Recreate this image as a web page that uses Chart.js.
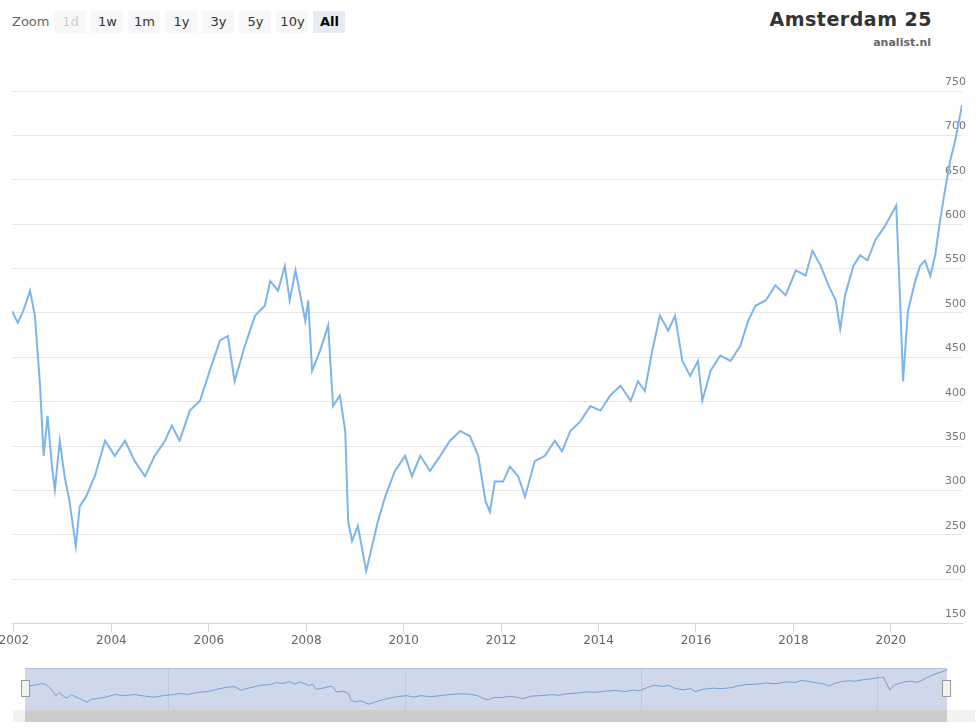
<!DOCTYPE html>
<html><head><meta charset="utf-8">
<script src="https://cdn.jsdelivr.net/npm/chart.js@4"></script>
<style>
body{margin:0;background:#fff;font-family:"DejaVu Sans",sans-serif;width:978px;height:728px;overflow:hidden;position:relative}
#zoom{position:absolute;left:12px;top:11px;font-size:13px;color:#666}
#zoom span{display:inline-block;margin-right:2px}
.btn{display:inline-block;background:#f7f7f7;color:#333;font-size:13px;width:32px;height:22px;line-height:22px;text-align:center;margin-left:3px}
.btn.dis{color:#ccc}
.btn.sel{background:#e6ebf5;font-weight:bold;color:#000}
#title{position:absolute;right:46px;top:8px;font-size:19px;font-weight:bold;color:#333;letter-spacing:.5px}
#sub{position:absolute;right:47px;top:36px;font-size:11px;font-weight:bold;color:#666}
#main{position:absolute;left:-6px;top:0;width:984px;height:650px}
#navbg{position:absolute;left:25px;top:668px;width:922px;height:42px;background:#cfd8eb;border-top:1px solid #b8c3dc}
#nav{position:absolute;left:25px;top:668px;width:922px;height:42px}
#sb{position:absolute;left:13px;top:710px;width:962px;height:12px;background:#f2f2f2}
#sbt{position:absolute;left:25px;top:710px;width:922px;height:12px;background:#cccccc}
.h{position:absolute;top:680px;width:7px;height:15px;background:#f2f2f2;border:1px solid #999}
</style></head><body>
<div id="zoom"><span>Zoom</span><span class="btn dis">1d</span><span class="btn">1w</span><span class="btn">1m</span><span class="btn">1y</span><span class="btn">3y</span><span class="btn">5y</span><span class="btn">10y</span><span class="btn sel">All</span></div>
<div id="title">Amsterdam 25</div>
<div id="sub">analist.nl</div>
<div id="main"><canvas id="c"></canvas></div>
<div id="navbg"></div>
<div id="nav"><canvas id="n"></canvas></div>
<div id="sb"></div><div id="sbt"></div>
<div class="h" style="left:21px"></div><div class="h" style="left:942px"></div>
<script>
const years = [2001.96,2002.08,2002.19,2002.33,2002.43,2002.53,2002.61,2002.69,2002.78,2002.84,2002.94,2003.04,2003.14,2003.27,2003.35,2003.48,2003.66,2003.87,2004.07,2004.28,2004.48,2004.69,2004.89,2005.1,2005.24,2005.4,2005.61,2005.82,2006.02,2006.23,2006.39,2006.53,2006.74,2006.95,2007.15,2007.26,2007.42,2007.56,2007.66,2007.78,2007.98,2008.04,2008.12,2008.28,2008.45,2008.55,2008.69,2008.8,2008.86,2008.94,2009.06,2009.23,2009.35,2009.47,2009.62,2009.82,2010.03,2010.17,2010.34,2010.54,2010.75,2010.95,2011.16,2011.36,2011.53,2011.68,2011.77,2011.87,2012.04,2012.18,2012.35,2012.49,2012.69,2012.9,2013.1,2013.25,2013.42,2013.63,2013.83,2014.04,2014.24,2014.45,2014.66,2014.81,2014.95,2015.1,2015.26,2015.43,2015.57,2015.72,2015.88,2016.04,2016.13,2016.3,2016.5,2016.71,2016.91,2017.07,2017.22,2017.43,2017.63,2017.84,2018.05,2018.25,2018.39,2018.56,2018.72,2018.87,2018.96,2019.06,2019.23,2019.37,2019.52,2019.68,2019.88,2020.05,2020.11,2020.19,2020.25,2020.35,2020.5,2020.6,2020.7,2020.81,2020.91,2021.01,2021.11,2021.22,2021.32,2021.38,2021.46];
const values = [502,489,502,525,497,423,339,384,327,301,356,316,288,237,282,293,316,356,339,356,333,316,339,356,373,356,390,401,435,469,474,423,463,497,508,536,525,553,514,548,491,514,435,457,486,395,407,367,265,243,260,209,237,265,293,322,339,316,339,322,339,356,367,361,339,288,276,310,310,327,316,293,333,339,356,344,367,378,395,390,407,418,401,423,412,457,497,480,497,446,429,446,401,435,452,446,463,491,508,514,531,520,548,542,570,553,531,514,482,520,553,565,559,582,598,615,621,514,423,502,536,553,559,542,565,604,638,672,694,711,734];
const yearTicks = [2002,2004,2006,2008,2010,2012,2014,2016,2018,2020];
const navTicks = [2005,2010,2015,2020];
const pts = years.map((x,i)=>({x:x,y:values[i]}));

new Chart(document.getElementById('c'), {
  type:'line',
  data:{datasets:[{data:pts,borderColor:'#7cb5ec',borderWidth:2,pointRadius:0,fill:false,tension:0}]},
  options:{
    responsive:true, maintainAspectRatio:false, animation:false,
    layout:{padding:{top:91,left:18,right:8,bottom:0}},
    plugins:{legend:{display:false},tooltip:{enabled:false}},
    scales:{
      x:{type:'linear',min:2001.96,max:2021.46,
        afterBuildTicks:a=>{a.ticks=yearTicks.map(v=>({value:v}));},
        ticks:{color:'#666',font:{size:12,family:'DejaVu Sans'},maxRotation:0,autoSkip:false,padding:2,callback:v=>String(v)},
        grid:{drawOnChartArea:false,color:'#ccd6eb',tickLength:8},border:{color:'#ccd6eb'}},
      y:{position:'right',min:150,max:750,
        ticks:{stepSize:50,mirror:true,labelOffset:-9,padding:4,color:'#777',font:{size:11,family:'DejaVu Sans'}},
        grid:{color:'#e6e6e6',drawTicks:false},border:{display:false}}
    }
  }
});

new Chart(document.getElementById('n'), {
  type:'line',
  data:{datasets:[{data:pts,borderColor:'#6f9fd8',borderWidth:1,pointRadius:0,fill:false,tension:0}]},
  options:{
    responsive:true, maintainAspectRatio:false, animation:false,
    plugins:{legend:{display:false},tooltip:{enabled:false}},
    scales:{
      x:{type:'linear',min:2001.96,max:2021.46,
        afterBuildTicks:a=>{a.ticks=navTicks.map(v=>({value:v}));},
        ticks:{mirror:true,color:'#999',font:{size:11},padding:-14,align:'start',callback:v=>String(v)},
        grid:{color:'#bfc9de',drawTicks:false},border:{display:false}},
      y:{display:false,min:120,max:760}
    }
  }
});
</script>
</body></html>
